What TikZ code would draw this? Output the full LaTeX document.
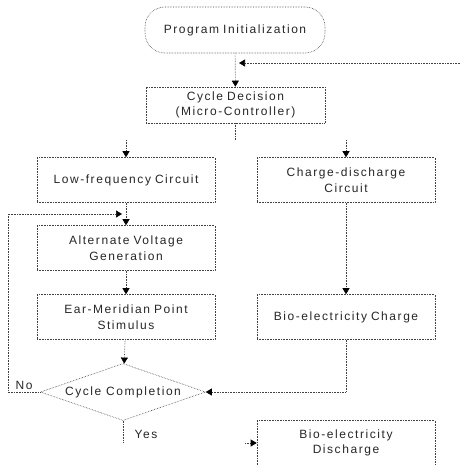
\documentclass[tikz,border=0pt]{standalone}
\usepackage{fontspec}
\setmainfont{Liberation Sans}[LetterSpace=13]
\usetikzlibrary{arrows.meta,shapes.geometric,positioning}
\tikzset{
	every node/.style={
		font=\fontsize{12}{15.5}\selectfont,
		text=black!85
	},
	caja/.style={
		shape=rectangle,
		minimum width=178pt,
		minimum height=45pt,
		text width=170pt,
		align=center,
		draw=black!75,
		densely dotted,
		line width=0.6pt
	},
	inicio/.style={
		caja,
		minimum width=180pt,
		minimum height=46pt,
		rounded corners=20pt
	},
	decision/.style={
		shape=diamond,
		aspect=2.9,
		inner sep=0pt,
		minimum width=165pt,
		minimum height=57pt,
		draw=black!75,
		densely dotted,
		line width=0.6pt
	},
	linea/.style={draw=black!75, densely dotted, line width=0.6pt},
	flecha/.style={linea, -{Triangle[width=7pt,length=6pt,fill=black,color=black]}}
}

\begin{document}
\begin{tikzpicture}[x=1pt,y=-1pt]
	\useasboundingbox (0,0) rectangle (460,465);
	
	% Bloques principales
	\node[inicio]   (PI)  at (235,30)  {Program Initialization};
	\node[caja, minimum width=179pt, minimum height=36pt] (CD) at (235.5,105) {Cycle Decision\\(Micro-Controller)};
	
	% Rama izquierda
	\node[caja]     (LF)  at (126,180) {Low-frequency Circuit};
	\node[caja]     (Alt) at (126,248) {Alternate Voltage\\Generation};
	\node[caja]     (Ear) at (126,317) {Ear-Meridian Point\\Stimulus};
	\node[decision] (Dec) at (123,392) {Cycle Completion};
	
	% Rama derecha
	\node[caja]     (CC)  at (346,180) {Charge-discharge\\Circuit};
	\node[caja]     (Bio) at (346,317) {Bio-electricity Charge};
	\node[caja]     (Dis) at (346,443) {Bio-electricity\\Discharge};
	
	% Puntos auxiliares
	\coordinate (ret) at (460,63);
	\coordinate (j1)  at (239,63);
	\coordinate (c1)  at (CD.south |- 0,140);
	\coordinate (c2)  at (LF.north |- 0,140);
	\coordinate (c3)  at (CC.north |- 0,140);
	\coordinate (j2)  at (122,214);
	\coordinate (izq) at (8,214);
	\coordinate (c5)  at (Dec.south |- 0,443);
	\coordinate (c6)  at (245,443);
	
	% Conexiones
	\draw[flecha] (PI) -- (CD);
	\draw[flecha] (ret) -- (j1);
	\draw[linea]  (CD) -- (c1);
	\draw[flecha] (c2) -- (LF);
	\draw[flecha] (c3) -- (CC);
	\draw[flecha] (LF) -- (Alt);
	\draw[flecha] (Alt) -- (Ear);
	\draw[flecha] (Ear) -- (Dec);
	\draw[flecha] (CC) -- (Bio);
	\draw[flecha] (Bio) |- (Dec);
	\draw[flecha] (Dec.west) -| (izq) -- (j2);
	\draw[linea]  (Dec) -- (c5);
	\draw[flecha] (c6) -- (Dis);
	
	% Etiquetas
	\node (no) at (24,385)  {No};
	\node (si) at (146,434) {Yes};
\end{tikzpicture}
\end{document}
